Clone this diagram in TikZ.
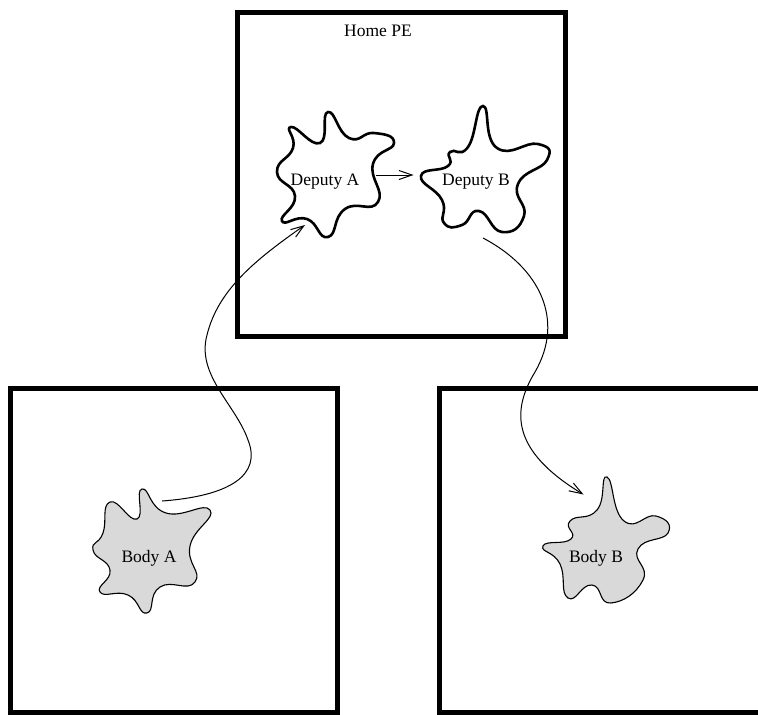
\documentclass[tikz,border=0pt]{standalone}
\usepackage{fontspec}
\setmainfont{Liberation Serif}
\usetikzlibrary{arrows.meta}
\tikzset{
  pebox/.style={line width=5pt, draw=black},
  deputyblob/.style={line width=2.6pt, draw=black, fill=white},
  bodyblob/.style={line width=1.1pt, draw=black, fill=bodygray},
  lbl/.style={font=\fontsize{17.5}{20}\selectfont, inner sep=0pt},
  conn/.style={line width=1pt, -{Straight Barb[length=13pt,width=9pt,line width=1pt]}},
}
\definecolor{bodygray}{RGB}{217,217,217}
\begin{document}
\begin{tikzpicture}[x=1pt,y=-1pt]
\useasboundingbox (0,0) rectangle (758,715);
% processor boxes
\draw[pebox] (237.5,12.5) rectangle (565,336);
\draw[pebox] (10,388) rectangle (337.5,712.5);
\draw[pebox] (439,388) rectangle (762,712.5);
\node[lbl] (home) at (378,31) {Home PE};
% Deputy A blob
\draw[deputyblob] plot[smooth cycle, tension=0.9] coordinates {
 (328,112) (349,138) (374,133) (394,143) (373,164) (378,202)
 (345,209) (328,237) (307,219) (282,221) (295,196) (277,172)
 (293,148) (291,127) (320,143)};
% Deputy B blob
\draw[deputyblob] plot[smooth cycle, tension=0.9] coordinates {
 (483,106) (497,148) (538,144) (547,160) (518,184) (524,216)
 (502,232) (479,211) (462,225) (444,223) (442,200) (421,176)
 (448,166) (450,152) (468,147)};
% Body A blob
\draw[bodyblob] plot[smooth cycle, tension=0.9] coordinates {
 (142,489) (166,513) (210,510) (190,546) (195,582) (160,587)
 (147,613) (128,595) (100,592) (110,570) (93,550) (103,533)
 (110,502) (137,519)};
% Body B blob
\draw[bodyblob] plot[smooth cycle, tension=0.9] coordinates {
 (607,477) (624,521) (656,516) (668,533) (638,549) (643,580)
 (611,603) (592,585) (568,598) (560,564) (543,546) (571,539)
 (570,521) (597,510)};
% labels
\node[lbl] (depA) at (325,182) {Deputy A};
\node[lbl] (depB) at (476,182) {Deputy B};
\node[lbl] (bodyA) at (149,558) {Body A};
\node[lbl] (bodyB) at (596,558) {Body B};
% connector endpoints
\coordinate (bodyAout) at (162,501);
\coordinate (depAin) at (305,225);
\coordinate (depAout) at (376,175);
\coordinate (depBin) at (413.5,175);
\coordinate (depBout) at (483,238);
\coordinate (bodyBin) at (583.5,494.5);
% connectors
\draw[conn] (bodyAout) .. controls (230,496) and (262,475) .. (248,440)
  .. controls (236,405) and (196,375) .. (207,335)
  .. controls (218,290) and (255,260) .. (depAin);
\draw[conn] (depAout) -- (depBin);
\draw[conn] (depBout) .. controls (540,268) and (565,320) .. (535,372)
  .. controls (512,410) and (510,450) .. (bodyBin);
\end{tikzpicture}
\end{document}
